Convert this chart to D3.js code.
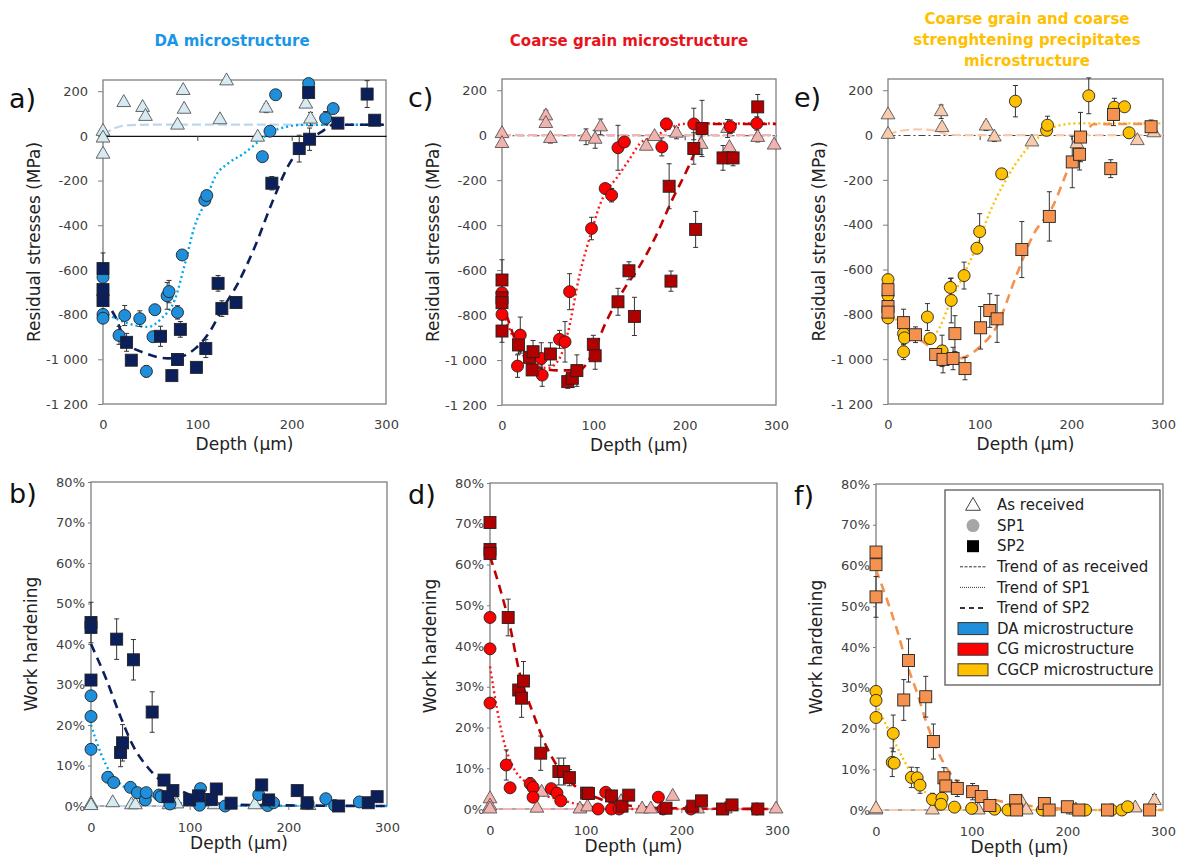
<!DOCTYPE html>
<html>
<head>
<meta charset="utf-8">
<script src="https://cdn.jsdelivr.net/npm/d3@7"></script>
<style>
  body { margin: 0; background: #fff; }
  text { font-family: "DejaVu Sans", Verdana, sans-serif; }
</style>
</head>
<body>
<svg id="chart" width="1183" height="864"></svg>
<script>
// ---- ticks ----
let depthTicks = [0, 100, 200, 300];
let stressTicks = [-1200, -1000, -800, -600, -400, -200, 0, 200];
let hardTicks = [0, 10, 20, 30, 40, 50, 60, 70, 80];

// ---- DA microstructure: residual stresses [depth, MPa, err] ----
let daStressAR = [[0,20],[0,-10],[0,-82],[22,149],[42,127],[45,87],[79,48],[85,203],[86,119],[124,72],[131,246],[164,-6],[173,124,20],[215,142],[220,75,30]];
let daStressSP1 = [[0,-633],[0,-799],[0,-816],[17,-893,40],[23,-804,45],[39,-818,35],[46,-1054,25],[53,-899],[55,-778],[68,-716,60],[70,-697,50],[79,-790,30],[84,-533,20],[108,-288],[110,-267],[169,-93],[177,21],[183,184],[218,234],[236,79,30],[244,122]];
let daStressSP2 = [[0,-594,70],[0,-688],[0,-737],[25,-924,40],[30,-1004],[61,-897,45],[73,-1073,20],[79,-1001,25],[82,-866,35],[99,-1036],[109,-952,40],[122,-660,35],[126,-773,35],[141,-746],[179,-212,30],[208,-57,60],[219,-15,50],[218,194],[249,57],[280,187,60],[288,70]];
let daStressTrendAR = [[0,5],[10,30],[25,47],[50,50],[300,50]];
let daStressTrendSP1 = [[0,-790],[15,-820],[27,-840],[48,-855],[62,-817],[76,-734],[87,-570],[97,-406],[108,-300],[119,-182],[133,-122],[150,-77],[165,-25],[179,19],[193,39],[211,49],[300,50]];
let daStressTrendSP2 = [[0,-730],[13,-809],[25,-928],[45,-973],[69,-996],[83,-988],[98,-951],[112,-884],[126,-779],[143,-660],[161,-496],[179,-301],[196,-137],[214,-33],[232,19],[245,50],[300,50]];

// ---- DA microstructure: work hardening [depth, %, err] ----
let daHardAR = [[0,0.5],[0,0.1],[22,0.8],[41,0.3],[45,0.3],[79,0.3],[87,0.5],[125,0.3],[166,0.3],[219,0.2],[221,0.1]];
let daHardSP1 = [[0,27.2],[0,22.1],[0,14],[17,7.1],[23,5.8],[40,4.6],[47,3.3],[55,1.5],[56,3.3],[69,2.7],[71,2.3],[80,0.5],[110,0.2],[111,4.3],[136,0],[170,2.8],[179,0.1],[185,0.8],[220,0.7],[238,1.8],[247,0.1],[272,1]];
let daHardSP2 = [[0,45.3,5],[0,44.1],[0,31.1],[26,41.2,5],[43,36.1,5],[62,23.2,5],[30,13.2,3.5],[32,15.6,4.5],[74,6.4],[83,3.8],[78,2.3],[100,1.5],[109,2.5],[122,1.6],[127,4.2],[142,0.7],[173,5.2],[180,1.5],[209,3.8],[219,0.8],[251,0],[281,0.8],[290,2.3]];
let daHardTrendAR = [[0,0],[300,0]];
let daHardTrendSP1 = [[0,20],[10,13],[20,8.1],[33,4.8],[50,3.1],[70,1.9],[90,0.7],[110,0.2],[300,0]];
let daHardTrendSP2 = [[0,40],[16,31],[30,22],[43,14.7],[57,9.7],[70,6.4],[84,4.4],[97,3.1],[111,1.5],[145,0.3],[300,0]];

// ---- CG microstructure ----
let cgStressAR = [[0,7],[0,-37],[48,86,25],[48,52],[53,-15,20],[92,-7,35],[102,-18,40],[108,37,35],[158,-49],[167,-6],[191,9,25],[218,-41,45],[247,30,40],[249,-55],[280,-10,20],[298,-44]];
let cgStressSP1 = [[0,-701],[0,-797],[17,-1027,50],[20,-889,80],[43,-993,70],[44,-1067,50],[63,-908,40],[69,-919,90],[74,-696,80],[98,-415,50],[113,-237],[120,-267,30],[127,-56,100],[134,-30],[175,-52,40],[180,50,25],[210,50,70],[250,38,30],[279,52,30]];
let cgStressSP2 = [[0,-644,90],[0,-723],[0,-745],[0,-871,50],[18,-933,40],[30,-988],[34,-963,50],[33,-1044],[53,-973,50],[72,-1096,30],[77,-1081,40],[82,-1047,70],[100,-930,40],[102,-981,60],[127,-741,60],[139,-603,40],[145,-806,85],[183,-227,100],[185,-649,45],[210,-59,70],[212,-419,80],[219,30,125],[242,-101,55],[253,-101,35],[280,126,55]];
let cgStressTrendAR = [[0,0],[300,0]];
let cgStressTrendSP1 = [[0,-775],[20,-960],[35,-1020],[50,-1035],[62,-1000],[72,-880],[85,-620],[99,-415],[107,-311],[114,-252],[125,-193],[140,-104],[151,-37],[165,-7],[180,22],[192,45],[205,52],[300,52]];
let cgStressTrendSP2 = [[0,-735],[18,-942],[36,-1031],[62,-1046],[84,-1046],[99,-972],[113,-839],[135,-676],[150,-587],[168,-453],[186,-290],[204,-142],[215,-39],[223,43],[230,50],[300,50]];

let cgHardAR = [[0,2.5],[0,0.7],[0,0],[49,0.2],[54,4.1],[94,0],[102,0.5],[137,1.8],[159,0],[168,0],[191,3.1],[217,0],[246,0],[299,0]];
let cgHardSP1 = [[0,47],[0,39.3],[0,26],[17,10.8,3.7],[21,5.2],[42,6.2,1.5],[45,5.3],[45,2.9],[64,5],[70,3.9],[74,2],[113,0],[121,4.1],[127,0],[135,0],[176,2.9],[181,0],[210,0],[279,0]];
let cgHardSP2 = [[0,70.3],[0,63.7],[0,62.7],[19,47,4.5],[30,29.2],[35,31.4,4.8],[33,27.2,4.7],[53,13.7,4.2],[72,9.2,3.3],[77,9.2,3.3],[83,7.7,2],[101,3.9],[103,3.8],[127,3.2],[138,0.7],[145,3.4],[184,0.2],[212,0.7],[221,2],[243,0],[253,1],[280,0]];
let cgHardTrendAR = [[0,0],[300,0]];
let cgHardTrendSP1 = [[0,35],[7,25],[14,17],[24,10.4],[38,6.4],[52,3.9],[73,2.3],[101,0.7],[130,0],[300,0]];
let cgHardTrendSP2 = [[0,62],[10,54.5],[21,44.7],[31,33.3],[45,23.5],[59,15.3],[73,9.6],[87,6],[101,3.9],[122,1.9],[150,0.7],[185,0.2],[300,0]];

// ---- CGCP microstructure ----
let cgcpStressAR = [[0,90],[0,3],[58,104,30],[59,33],[107,40,20],[116,-9,20],[157,-31,15],[206,-39,30],[272,-25],[290,10]];
let cgcpStressSP1 = [[0,-645],[0,-716],[0,-816],[17,-886,50],[18,-905],[17,-967,35],[43,-812,60],[46,-908],[59,-963,70],[68,-680,40],[69,-738,100],[83,-627,60],[97,-505],[100,-431,80],[124,-173],[139,151,70],[173,21],[174,44,40],[219,175,80],[247,124,40],[258,126],[263,10]];
let cgcpStressSP2 = [[0,-690],[0,-765],[0,-790],[17,-837,60],[30,-891,35],[52,-979],[60,-1001,60],[71,-997,50],[73,-886,80],[84,-1042,50],[101,-860,95],[111,-783,75],[119,-820,105],[146,-511,125],[176,-363,110],[201,-120,115],[209,-86,70],[210,-9,110],[243,-150,40],[246,92,50],[287,37,30]];
let cgcpStressTrendAR = [[0,0],[13,19],[32,25],[50,21],[64,3],[80,0],[300,0]];
let cgcpStressTrendSP1 = [[0,-790],[21,-865],[39,-910],[53,-880],[68,-745],[82,-627],[97,-494],[111,-345],[129,-197],[148,-79],[166,-4],[184,40],[205,52],[300,52]];
let cgcpStressTrendSP2 = [[0,-783],[17,-865],[39,-924],[61,-990],[75,-998],[100,-946],[119,-850],[140,-627],[158,-449],[180,-316],[198,-138],[213,-19],[224,48],[300,50]];

let cgcpHardAR = [[0,0],[0,0.3],[59,0],[107,0],[152,2],[157,0],[206,0],[209,0],[271,0.5],[291,2.3,1.5]];
let cgcpHardSP1 = [[0,29.1],[0,26.9],[0,22.7],[18,18.8,4.5],[17,11.7,3.5],[19,11.5],[37,8,2.5],[43,7.9,2.5],[46,6.1,2],[59,2.6,1.5],[69,2.9,1.5],[68,1.4],[82,0.7],[100,0.4],[124,0.2],[138,0],[174,0],[219,0],[246,0],[257,0],[263,0.8]];
let cgcpHardSP2 = [[0,63.3],[0,60.2],[0,52.3,5],[29,27,5],[34,36.7,5.3],[52,27.8,5],[60,16.8,4.3],[71,7.9,2.5],[73,5.9],[85,5.3,2],[101,4.5,2],[110,3.3],[119,1.1],[146,2.3,1.5],[147,0],[176,1.6],[181,0],[200,0.8],[212,0],[242,0],[286,0]];
let cgcpHardTrendAR = [[0,0],[300,0]];
let cgcpHardTrendSP1 = [[0,26],[15,18.8],[29,12.3],[43,6.6],[57,3.3],[77,1.2],[105,0.2],[130,0],[300,0]];
let cgcpHardTrendSP2 = [[0,59],[11.5,51.6],[22,44.2],[32,36],[43,28.7],[53,21.3],[64,14.7],[77.5,9],[91,5.7],[112,3.3],[133,2],[154,1.2],[189,0.4],[230,0],[300,0]];

let legendLabels = ['As received', 'SP1', 'SP2', 'Trend of as received', 'Trend of SP1', 'Trend of SP2', 'DA microstructure', 'CG microstructure', 'CGCP microstructure'];

// ---- colours per microstructure ----
let DA = { title: '#1B96E6', ar: '#D6EAF2', sp1: '#1F8FDB', sp2: '#0B1F5B', tAR: '#BDD7EE', tSP1: '#00A8F0', tSP2: '#0B1F5B' };
let CG = { title: '#E8141B', ar: '#F2B3B0', sp1: '#FF0000', sp2: '#B00000', tAR: '#F4B6B4', tSP1: '#FF1A1A', tSP2: '#C00000' };
let CGCP = { title: '#FFC000', ar: '#F8CBAD', sp1: '#FFC000', sp2: '#F5924F', tAR: '#F8CBAD', tSP1: '#FFC000', tSP2: '#F5924F' };

let svg = d3.select('#chart');

let panels = [
  { label: 'a)', kind: 'stress', box: [103, 80, 386, 404], pal: DA, zero: 'solid',
    ar: daStressAR, sp1: daStressSP1, sp2: daStressSP2, tAR: daStressTrendAR, tSP1: daStressTrendSP1, tSP2: daStressTrendSP2 },
  { label: 'c)', kind: 'stress', box: [502, 79, 776, 405], pal: CG, zero: 'dash',
    ar: cgStressAR, sp1: cgStressSP1, sp2: cgStressSP2, tAR: cgStressTrendAR, tSP1: cgStressTrendSP1, tSP2: cgStressTrendSP2 },
  { label: 'e)', kind: 'stress', box: [888, 79, 1163, 404], pal: CGCP, zero: 'dash',
    ar: cgcpStressAR, sp1: cgcpStressSP1, sp2: cgcpStressSP2, tAR: cgcpStressTrendAR, tSP1: cgcpStressTrendSP1, tSP2: cgcpStressTrendSP2 },
  { label: 'b)', kind: 'hard', box: [91, 482, 387, 806], pal: DA,
    ar: daHardAR, sp1: daHardSP1, sp2: daHardSP2, tAR: daHardTrendAR, tSP1: daHardTrendSP1, tSP2: daHardTrendSP2 },
  { label: 'd)', kind: 'hard', box: [490, 483, 777, 809], pal: CG,
    ar: cgHardAR, sp1: cgHardSP1, sp2: cgHardSP2, tAR: cgHardTrendAR, tSP1: cgHardTrendSP1, tSP2: cgHardTrendSP2 },
  { label: 'f)', kind: 'hard', box: [876, 484, 1163, 810], pal: CGCP,
    ar: cgcpHardAR, sp1: cgcpHardSP1, sp2: cgcpHardSP2, tAR: cgcpHardTrendAR, tSP1: cgcpHardTrendSP1, tSP2: cgcpHardTrendSP2 }
];

let stressFmt = d => String(d).replace(/(\d)(?=(\d{3})+$)/, '$1 ');
let hardFmt = d => d + '%';

function drawPanel(p) {
  let [x0, y0, x1, y1] = p.box;
  let isStress = p.kind === 'stress';
  let g = svg.append('g');

  let x = d3.scaleLinear().domain([0, 300]).range([x0, x1]);
  let y = d3.scaleLinear().domain(isStress ? [-1200, 250] : [0, 80]).range([y1, y0]);

  // frame
  g.append('rect')
    .attr('x', x0).attr('y', y0)
    .attr('width', x1 - x0).attr('height', y1 - y0)
    .attr('fill', 'none').attr('stroke', '#7f7f7f').attr('stroke-width', 1.3);

  // y axis
  let yAxis = d3.axisLeft(y)
    .tickValues(isStress ? stressTicks : hardTicks)
    .tickSizeInner(isStress ? 5 : 3).tickSizeOuter(0)
    .tickPadding(isStress ? 10 : 3)
    .tickFormat(isStress ? stressFmt : hardFmt);
  let ya = g.append('g').attr('transform', `translate(${x0},0)`).call(yAxis);
  ya.select('.domain').remove();

  // x axis
  let xAxis = d3.axisBottom(x)
    .tickValues(depthTicks)
    .tickSizeInner(isStress ? 0 : 4).tickSizeOuter(0)
    .tickPadding(isStress ? 16 : 13);
  let xa = g.append('g').attr('transform', `translate(0,${y1})`).call(xAxis);
  xa.select('.domain').remove();

  [ya, xa].forEach(a => {
    a.selectAll('line').attr('stroke', '#7f7f7f');
    a.selectAll('text').attr('fill', '#404040').style('font-size', '13px');
  });
  xa.selectAll('.tick').filter(d => d === 0 || d === 300).select('line').remove();

  // zero line with ticks (stress panels)
  if (isStress) {
    let zAxis = d3.axisBottom(x).tickValues([100, 200]).tickSizeInner(5).tickSizeOuter(0).tickFormat('');
    let za = g.append('g').attr('transform', `translate(0,${y(0)})`).call(zAxis);
    za.selectAll('line').attr('stroke', '#404040');
    za.select('.domain').attr('stroke', p.zero === 'solid' ? '#111' : '#444')
      .attr('stroke-width', 1.1)
      .attr('stroke-dasharray', p.zero === 'solid' ? null : '7,3,2,3');
  }

  // trends
  let line = d3.line().x(d => x(d[0])).y(d => y(d[1])).curve(d3.curveMonotoneX);
  g.append('path').datum(p.tAR).attr('d', line)
    .attr('fill', 'none').attr('stroke', p.pal.tAR).attr('stroke-width', 2.2)
    .attr('stroke-dasharray', '9,4');
  g.append('path').datum(p.tSP1).attr('d', line)
    .attr('fill', 'none').attr('stroke', p.pal.tSP1).attr('stroke-width', 2.4)
    .attr('stroke-dasharray', '2,3');
  g.append('path').datum(p.tSP2).attr('d', line)
    .attr('fill', 'none').attr('stroke', p.pal.tSP2).attr('stroke-width', 2.6)
    .attr('stroke-dasharray', '9,6');

  // error bars
  let errs = [].concat(p.ar, p.sp1, p.sp2).filter(d => d[2]);
  let eb = g.append('g').attr('stroke', '#333').attr('stroke-width', 1);
  eb.selectAll('line.v').data(errs).enter().append('line').attr('class', 'v')
    .attr('x1', d => x(d[0])).attr('x2', d => x(d[0]))
    .attr('y1', d => y(d[1] - d[2])).attr('y2', d => y(d[1] + d[2]));
  eb.selectAll('line.t').data(errs).enter().append('line').attr('class', 't')
    .attr('x1', d => x(d[0]) - 2.5).attr('x2', d => x(d[0]) + 2.5)
    .attr('y1', d => y(d[1] + d[2])).attr('y2', d => y(d[1] + d[2]));
  eb.selectAll('line.b').data(errs).enter().append('line').attr('class', 'b')
    .attr('x1', d => x(d[0]) - 2.5).attr('x2', d => x(d[0]) + 2.5)
    .attr('y1', d => y(d[1] - d[2])).attr('y2', d => y(d[1] - d[2]));

  // markers
  let tri = d3.symbol().type(d3.symbolTriangle).size(82);
  g.append('g').selectAll('path').data(p.ar).enter().append('path')
    .attr('d', tri)
    .attr('transform', d => `translate(${x(d[0])},${y(d[1])})`)
    .attr('fill', p.pal.ar).attr('stroke', '#555').attr('stroke-width', 0.9);
  g.append('g').selectAll('circle').data(p.sp1).enter().append('circle')
    .attr('cx', d => x(d[0])).attr('cy', d => y(d[1])).attr('r', 6)
    .attr('fill', p.pal.sp1).attr('stroke', '#222').attr('stroke-width', 0.9);
  g.append('g').selectAll('rect').data(p.sp2).enter().append('rect')
    .attr('x', d => x(d[0]) - 6).attr('y', d => y(d[1]) - 6)
    .attr('width', 12).attr('height', 12)
    .attr('fill', p.pal.sp2).attr('stroke', '#222').attr('stroke-width', 0.9);

  // axis titles
  g.append('text')
    .attr('transform', `translate(${x0 - (isStress ? 69 : 60)},${(y0 + y1) / 2}) rotate(-90)`)
    .attr('text-anchor', 'middle').attr('dy', '0.35em')
    .attr('fill', '#222').style('font-size', '17px')
    .text(isStress ? 'Residual stresses (MPa)' : 'Work hardening');
  g.append('text')
    .attr('x', (x0 + x1) / 2).attr('y', y1 + (isStress ? 46 : 43))
    .attr('text-anchor', 'middle')
    .attr('fill', '#222').style('font-size', '17px')
    .text('Depth (µm)');

  // panel letter
  g.append('text')
    .attr('x', x0 - (isStress ? 94 : 82)).attr('y', y0 + (isStress ? 28 : 21))
    .attr('fill', '#111').style('font-size', '27px')
    .text(p.label);
}

panels.forEach(drawPanel);

// column titles
svg.append('text').attr('x', 232).attr('y', 46).attr('text-anchor', 'middle')
  .attr('fill', DA.title).style('font-size', '15px').style('font-weight', 'bold')
  .text('DA microstructure');
svg.append('text').attr('x', 629).attr('y', 46).attr('text-anchor', 'middle')
  .attr('fill', CG.title).style('font-size', '15px').style('font-weight', 'bold')
  .text('Coarse grain microstructure');
['Coarse grain and coarse', 'strenghtening precipitates', 'microstructure'].forEach((t, i) => {
  svg.append('text').attr('x', 1027).attr('y', 24 + i * 21).attr('text-anchor', 'middle')
    .attr('fill', CGCP.title).style('font-size', '15px').style('font-weight', 'bold')
    .text(t);
});

// legend
let lg = svg.append('g');
lg.append('rect').attr('x', 945).attr('y', 490).attr('width', 215).attr('height', 195)
  .attr('fill', '#fff').attr('stroke', '#595959').attr('stroke-width', 1.3);
let sx = 973, tx = 997;
legendLabels.forEach((lab, i) => {
  let cy = 505 + i * 20.6;
  if (i === 0) {
    lg.append('path').attr('d', d3.symbol().type(d3.symbolTriangle).size(95)())
      .attr('transform', `translate(${sx},${cy + 1})`)
      .attr('fill', '#fff').attr('stroke', '#444').attr('stroke-width', 1);
  } else if (i === 1) {
    lg.append('circle').attr('cx', sx).attr('cy', cy).attr('r', 6.5).attr('fill', '#A6A6A6');
  } else if (i === 2) {
    lg.append('rect').attr('x', sx - 6).attr('y', cy - 6).attr('width', 12).attr('height', 12).attr('fill', '#000');
  } else if (i >= 3 && i <= 5) {
    let dash = ['3,1.5', '1,1', '5,4'][i - 3];
    let w = [1, 1, 2][i - 3];
    lg.append('line').attr('x1', sx - 13).attr('x2', sx + 13).attr('y1', cy).attr('y2', cy)
      .attr('stroke', '#333').attr('stroke-width', w).attr('stroke-dasharray', dash);
  } else {
    let fill = [DA.sp1, CG.sp1, CGCP.sp1][i - 6];
    lg.append('rect').attr('x', sx - 15).attr('y', cy - 6).attr('width', 30).attr('height', 12)
      .attr('fill', fill).attr('stroke', '#333').attr('stroke-width', 1);
  }
  lg.append('text').attr('x', tx).attr('y', cy).attr('dy', '0.35em')
    .attr('fill', '#222').style('font-size', '15px').text(lab);
});
</script>
</body>
</html>
